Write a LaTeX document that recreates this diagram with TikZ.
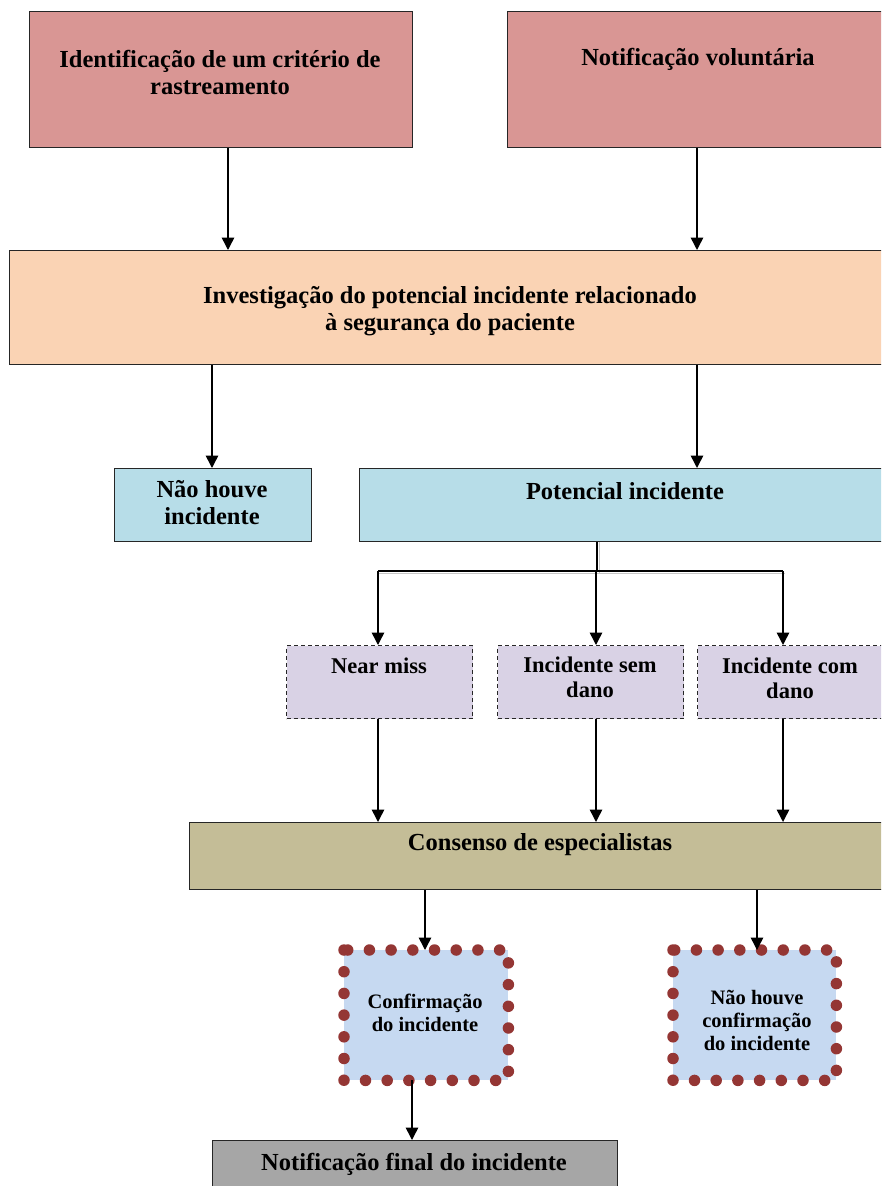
\documentclass[tikz,border=0pt]{standalone}
\usepackage{fontspec}
\setmainfont{Liberation Serif}
\usetikzlibrary{arrows.meta}
\definecolor{cPink}{HTML}{D99694}
\definecolor{cPeach}{HTML}{FAD3B4}
\definecolor{cBlue}{HTML}{B7DDE8}
\definecolor{cLav}{HTML}{D9D2E5}
\definecolor{cOlive}{HTML}{C4BD97}
\definecolor{cConf}{HTML}{C6D9F1}
\definecolor{cDot}{HTML}{943634}
\definecolor{cGray}{HTML}{A6A6A6}
\begin{document}
\begin{tikzpicture}[x=1pt,y=-1pt,
  box/.style={draw=black!85, line width=1.2pt, anchor=north west, inner sep=0pt},
  dashbox/.style={box, dashed, dash pattern=on 4pt off 3pt},
  plainbox/.style={anchor=north west, inner sep=0pt},
  dotborder/.style={draw=cDot, line width=11.5pt, line cap=round, dash pattern=on 0pt off 21.7pt},
  lbl/.style={font=\fontsize{24.5}{27}\selectfont\bfseries, align=center, inner sep=0pt},
  mid/.style={font=\fontsize{22.5}{25}\selectfont\bfseries, align=center, inner sep=0pt},
  small/.style={font=\fontsize{20.5}{23}\selectfont\bfseries, align=center, inner sep=0pt},
  arr/.style={line width=1.5pt, -{Triangle[width=12.5pt,length=12.5pt]}},
  link/.style={line width=1.5pt},
]
\useasboundingbox (0,0) rectangle (881,1186);
\clip (0,0) rectangle (881,1186);

% top sources
\node[box, fill=cPink, minimum width=383pt, minimum height=136pt] (A) at (29,11) {};
\node[lbl] (At) at (220,72) {Identificação de um critério de\\rastreamento};
\node[box, fill=cPink, minimum width=384pt, minimum height=136pt] (B) at (507,11) {};
\node[lbl] (Bt) at (698,59) {Notificação voluntária};

% investigation
\node[box, fill=cPeach, minimum width=882pt, minimum height=114pt] (C) at (9,250) {};
\node[lbl] (Ct) at (450,311) {Investigação do potencial incidente relacionado\\à segurança do paciente};

% outcome of investigation
\node[box, fill=cBlue, minimum width=197pt, minimum height=73pt] (D) at (114,468) {};
\node[lbl] (Dt) at (212,503) {Não houve\\incidente};
\node[box, fill=cBlue, minimum width=532pt, minimum height=73pt] (E) at (359,468) {};
\node[lbl] (Et) at (625,491) {Potencial incidente};

% classification
\node[dashbox, fill=cLav, minimum width=186pt, minimum height=73pt] (F) at (286,645) {};
\node[mid] (Ft) at (379,666) {Near miss};
\node[dashbox, fill=cLav, minimum width=186pt, minimum height=73pt] (G) at (497,645) {};
\node[mid] (Gt) at (590,677) {Incidente sem\\dano};
\node[dashbox, fill=cLav, minimum width=186pt, minimum height=73pt] (H) at (697,645) {};
\node[mid] (Ht) at (790,678) {Incidente com\\dano};

% consensus
\node[box, fill=cOlive, minimum width=702pt, minimum height=67pt] (I) at (189,822) {};
\node[lbl] (It) at (540,845) {Consenso de especialistas};

% confirmation
\node[plainbox, fill=cConf, minimum width=164pt, minimum height=130pt] (J) at (344,950) {};
\draw[dotborder] (J.north west) rectangle (J.south east);
\node[small] (Jt) at (425,1013) {Confirmação\\do incidente};
\node[plainbox, fill=cConf, minimum width=163pt, minimum height=130pt] (K) at (673,950) {};
\draw[dotborder] (K.north west) rectangle (K.south east);
\node[small] (Kt) at (757,1020) {Não houve\\confirmação\\do incidente};

% final notification
\node[box, fill=cGray, minimum width=405pt, minimum height=60pt] (L) at (212,1140) {};
\node[lbl] (Lt) at (414,1164) {Notificação final do incidente};

% connector columns
\coordinate (x1) at (228,0);
\coordinate (x2) at (697,0);
\coordinate (x3) at (212,0);
\coordinate (xb) at (597,571);
\coordinate (xF) at (378,571);
\coordinate (xG) at (596,571);
\coordinate (xH) at (783,571);
\coordinate (x4) at (425,0);
\coordinate (x5) at (757,0);
\coordinate (x6) at (412,0);

\draw[arr] (A.south -| x1) -- (C.north -| x1);
\draw[arr] (B.south -| x2) -- (C.north -| x2);
\draw[arr] (C.south -| x3) -- (D.north -| x3);
\draw[arr] (C.south -| x2) -- (E.north -| x2);

% branch to the three classes
\draw[gray!45, line width=1pt] ([xshift=2pt]E.south -| xb) -- ([xshift=2pt,yshift=-2pt]xb);
\draw[gray!45, line width=1pt] ([yshift=-2pt]xF) -- ([xshift=2pt,yshift=-2pt]xH);
\draw[link] (E.south -| xb) -- (xb);
\draw[link] (xF) -- (xH);
\draw[arr] (xF) -- (F.north -| xF);
\draw[arr] (xG) -- (G.north -| xG);
\draw[arr] (xH) -- (H.north -| xH);

\draw[arr] (F.south -| xF) -- (I.north -| xF);
\draw[arr] (G.south -| xG) -- (I.north -| xG);
\draw[arr] (H.south -| xH) -- (I.north -| xH);

\draw[arr] (I.south -| x4) -- (J.north -| x4);
\draw[arr] (I.south -| x5) -- (K.north -| x5);
\draw[arr] (J.south -| x6) -- (L.north -| x6);
\end{tikzpicture}
\end{document}
